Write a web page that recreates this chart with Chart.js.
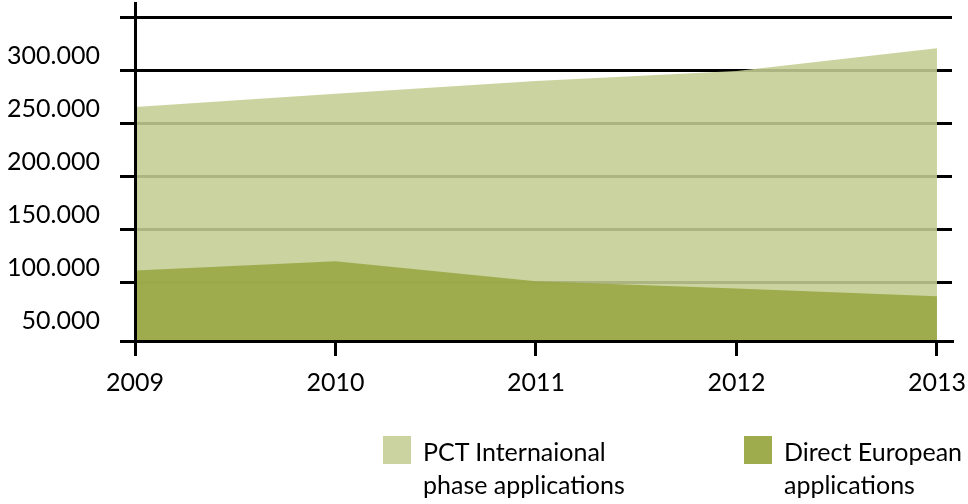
<!DOCTYPE html>
<html>
<head>
<meta charset="utf-8">
<script src="https://cdn.jsdelivr.net/npm/chart.js@4.4.2/dist/chart.umd.min.js"></script>
<style>
html, body { margin: 0; padding: 0; background: #fff; }
#wrap { position: relative; width: 968px; height: 504px; overflow: hidden; }
#chart { position: absolute; left: 0; top: 0; }
.legend-item { position: absolute; top: 436px; font: 25px Lato, sans-serif; line-height: 33px; color: #000; }
.swatch { position: absolute; left: 0; top: 0; width: 28px; height: 28px; }
.legend-item span { position: absolute; left: 40px; top: -1px; white-space: nowrap; }
</style>
</head>
<body>
<div id="wrap">
  <canvas id="chart" width="968" height="504"></canvas>
  <div class="legend-item" style="left:383px"><div class="swatch" style="background:#cbd4a0"></div><span>PCT Internaional<br>phase applications</span></div>
  <div class="legend-item" style="left:744px"><div class="swatch" style="background:#9eac4e"></div><span>Direct European<br>applications</span></div>
</div>
<script>
// Datos del gráfico
const years = [2009, 2010, 2011, 2012, 2013];
const pctValues = [266000, 278400, 290400, 300000, 321500];
const directValues = [111600, 120400, 101500, 94800, 87400];
const yTicks = [50000, 100000, 150000, 200000, 250000, 300000, 350000];
const yLabels = ['50.000', '100.000', '150.000', '200.000', '250.000', '300.000', ''];

// Rango de los ejes
const yMin = 45200;
const yMax = 364100;
const xMax = 2013.075;

const FONT = { family: 'Lato', size: 25 };
const NONE = 'rgba(0,0,0,0)';

const toPoints = (vals) => vals.map((v, i) => ({ x: years[i], y: v }));

const chart = new Chart(document.getElementById('chart'), {
    type: 'line',
    data: {
        datasets: [
            {
                label: 'Direct European applications',
                data: toPoints(directValues),
                backgroundColor: 'rgba(152,167,67,0.88)',
                borderWidth: 0,
                pointRadius: 0,
                fill: 'start',
                order: 0
            },
            {
                label: 'PCT Internaional phase applications',
                data: toPoints(pctValues),
                backgroundColor: 'rgba(196,206,147,0.88)',
                borderWidth: 0,
                pointRadius: 0,
                fill: 'start',
                order: 1
            }
        ]
    },
    options: {
        responsive: false,
        animation: false,
        layout: { padding: { top: 3, right: 16, left: 0, bottom: 0 } },
        elements: { line: { tension: 0 } },
        plugins: { legend: { display: false }, tooltip: { enabled: false } },
        scales: {
            x: {
                type: 'linear',
                min: 2009,
                max: xMax,
                afterBuildTicks: (scale) => { scale.ticks = years.map(v => ({ value: v })); },
                afterFit: (scale) => {
                    scale.height = 163;
                    scale.paddingLeft = 0;
                    scale.paddingRight = 0;
                },
                grid: { drawOnChartArea: false, drawTicks: true, tickLength: 15, color: '#000', lineWidth: 3 },
                border: { color: '#000', width: 3, z: 1 },
                ticks: {
                    autoSkip: false,
                    maxRotation: 0,
                    color: '#000',
                    font: FONT,
                    padding: 12,
                    callback: (value) => String(value)
                }
            },
            y: {
                min: yMin,
                max: yMax,
                afterBuildTicks: (scale) => { scale.ticks = [yMin, ...yTicks].map(v => ({ value: v })); },
                afterFit: (scale) => {
                    scale.width = 135;
                    scale.paddingTop = 0;
                    scale.paddingBottom = 0;
                },
                grid: {
                    color: (ctx) => (ctx.tick && ctx.tick.value === 50000) ? NONE : '#000',
                    tickColor: (ctx) => (ctx.tick && ctx.tick.value === 50000) ? NONE : '#000',
                    lineWidth: 3,
                    tickLength: 15
                },
                border: { color: '#000', width: 3, z: 1 },
                ticks: {
                    color: '#000',
                    font: FONT,
                    padding: 20,
                    labelOffset: -15,
                    callback: (value) => {
                        const i = yTicks.indexOf(value);
                        return i >= 0 ? yLabels[i] : '';
                    }
                }
            }
        }
    }
});
</script>
</body>
</html>
